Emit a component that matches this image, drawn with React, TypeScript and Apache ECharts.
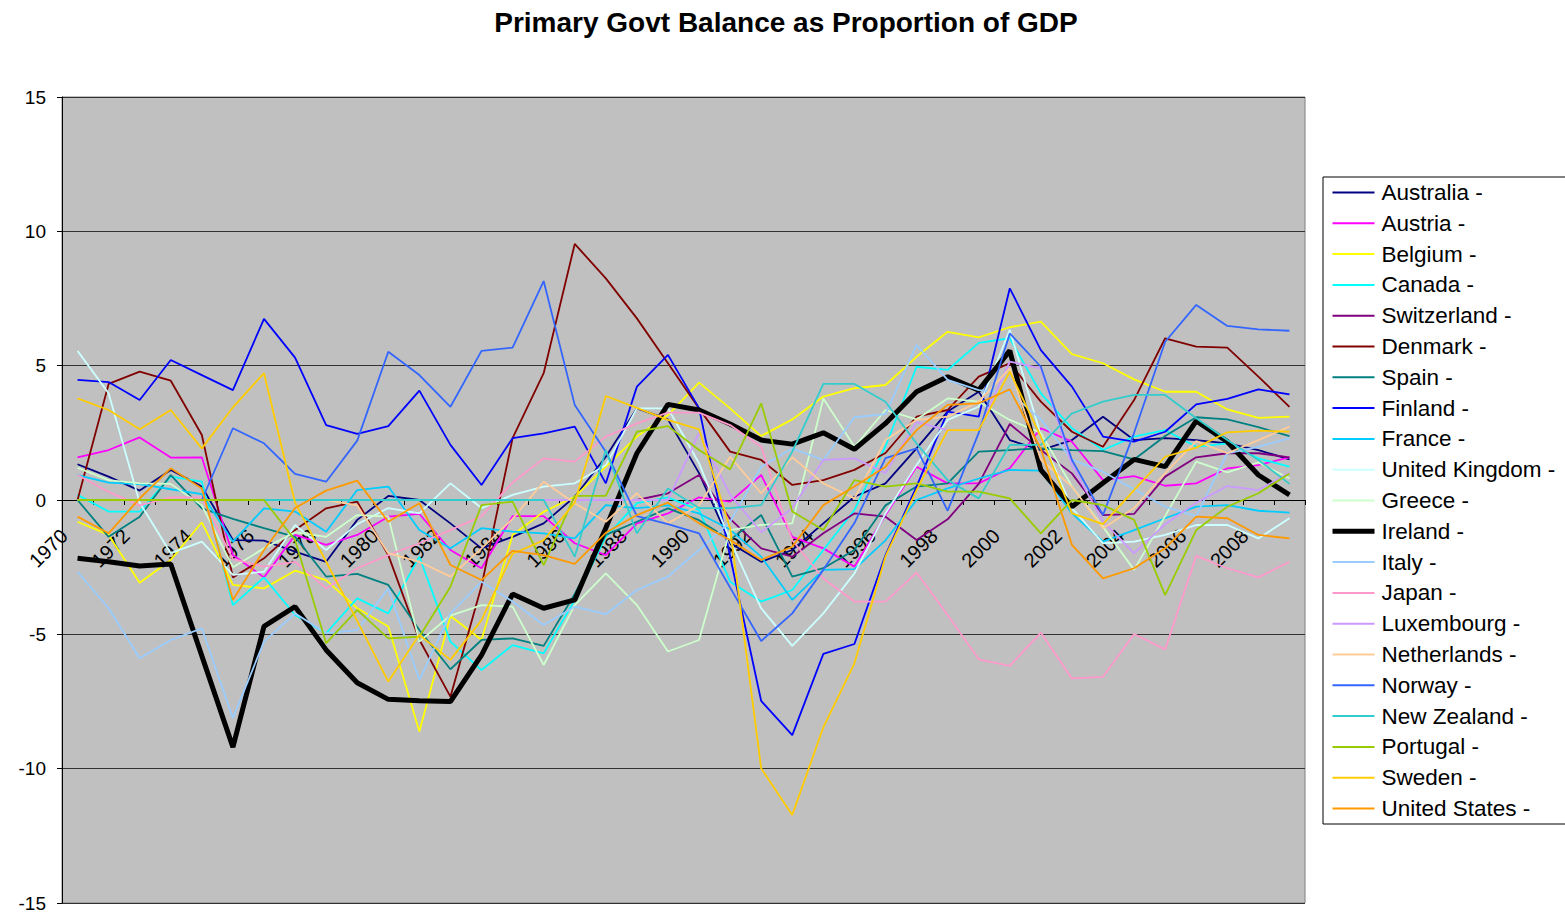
import React, { useEffect, useRef } from "react";
import * as echarts from "echarts";

const years: string[] = [];
for (let y = 1970; y <= 2009; y++) years.push(String(y));

const yTicks = [-15, -10, -5, 0, 5, 10, 15];

const australia = [1.33,0.87,0.35,1.12,0.5,-1.49,-1.51,-1.92,-2.3,-0.74,0.15,0,-0.87,-1.8,-1.37,-0.87,0.12,1.61,3.41,3.0,1.0,-1.6,-2.3,-1.86,-0.87,0.12,0.62,1.92,3.29,4.03,2.23,1.86,2.23,3.1,2.23,2.3,2.23,2.11,1.86,1.51];
const austria = [1.59,1.86,2.33,1.58,1.59,-2.05,-2.88,-1.3,-1.67,-1.3,-0.62,-0.52,-1.86,-2.54,-0.6,-0.6,-1.61,-2.05,-0.87,-0.5,0.1,-0.06,0.93,-1.37,-1.8,-2.48,-0.56,1.24,0.62,0.62,1.18,2.67,2.17,0.74,0.89,0.53,0.62,1.18,1.3,1.59];
const belgium = [-0.81,-1.3,-3.08,-2.23,-0.83,-3.16,-3.29,-2.63,-2.98,-4.03,-4.71,-8.62,-4.32,-5.2,-1.3,-0.44,0.12,1.24,2.36,3.16,4.37,3.41,2.38,3.0,3.85,4.16,4.28,5.33,6.26,6.05,6.43,6.64,5.43,5.09,4.49,4.03,4.03,3.37,3.06,3.1];
const canada = [0.19,-0.43,-0.43,0.87,0.68,-3.91,-2.88,-4.28,-4.96,-3.66,-4.22,-2.11,-5.27,-6.33,-5.4,-5.71,-3.72,-1.37,-0.12,0.1,-0.37,-3.04,-3.78,-3.35,-1.86,-0.37,2.0,4.96,4.84,5.85,6.02,3.97,2.67,1.86,2.36,2.6,1.98,2.11,1.55,1.24];
const switzerland = [0,0,0,0,0,0,0,0,0,0,0,0,0,0,0,0,0,0,0,0.25,0.93,-0.7,-1.8,-2.11,-1.24,-0.5,-0.62,-1.49,-0.72,0.6,2.83,1.86,0.99,-0.56,-0.52,0.87,1.59,1.74,1.74,1.59];
const denmark = [0,4.32,4.78,4.44,2.42,-2.88,-2.17,-1.12,-0.31,-0.06,-2.05,-5.2,-7.32,-3.2,2.3,4.72,9.53,8.25,6.76,5.09,3.41,1.8,1.49,0.56,0.74,1.12,1.75,3.1,3.35,4.59,5.09,3.66,2.54,1.98,3.72,6.02,5.71,5.67,4.59,3.47];
const spain = [0,-1.37,-0.62,0.93,-0.31,-0.7,-1.05,-1.37,-2.85,-2.75,-3.16,-4.84,-6.3,-5.21,-5.15,-5.43,-3.5,-1.3,-0.81,-0.31,-0.75,-1.49,-0.56,-2.85,-2.54,-1.86,-0.2,0.5,0.62,1.8,1.86,1.92,1.86,1.82,1.51,2.38,3.08,3.0,2.71,2.38];
const finland = [4.47,4.39,3.72,5.21,4.65,4.09,6.74,5.3,2.79,2.46,2.75,4.07,2.05,0.56,2.3,2.48,2.73,0.62,4.22,5.4,3.42,-2.1,-7.48,-8.75,-5.73,-5.36,-2.05,0.5,3.29,3.1,7.88,5.58,4.22,2.36,2.17,2.54,3.56,3.76,4.12,3.93];
const france = [0.93,0.65,0.59,0.4,0.22,-1.55,-0.31,-0.43,-1.18,0.37,0.5,-1.12,-1.8,-1.05,-1.18,-1.24,-1.43,-0.19,-0.3,-0.2,-0.5,-1.1,-2.11,-3.72,-2.6,-2.57,-1.5,0,0.43,0.8,1.12,1.09,-0.5,-1.55,-1.12,-0.68,-0.25,-0.19,-0.4,-0.47];
const unitedKingdom = [5.55,3.97,-0.1,-1.98,-1.55,-2.79,-2.67,-0.93,-1.86,-0.9,-0.3,-0.5,0.62,-0.3,0.19,0.5,0.62,1.3,3.41,3.41,1.37,-1.5,-4.03,-5.43,-4.22,-2.73,-0.5,1.3,2.98,3.47,6.33,2.4,-0.3,-1.61,-1.55,-1.3,-0.93,-0.93,-1.43,-0.68];
const greece = [1.2,0.74,0.62,0.6,-0.2,-2.5,-1.8,-1.2,-1.37,-0.56,-0.62,-5.27,-4.3,-3.91,-3.97,-6.14,-3.91,-2.73,-3.91,-5.64,-5.21,-1.12,-0.93,-0.87,3.78,1.98,3.35,3.0,3.78,3.66,2.98,2.5,0.5,-1.0,-2.6,-0.6,1.43,1.03,1.4,0.8];
const ireland = [-2.17,-2.3,-2.46,-2.38,-5.8,-9.2,-4.7,-3.97,-5.58,-6.8,-7.42,-7.47,-7.5,-5.77,-3.5,-4.03,-3.72,-1.04,1.74,3.56,3.35,2.83,2.23,2.08,2.5,1.89,2.85,4.03,4.59,4.09,5.56,1.12,-0.25,0.63,1.51,1.24,2.94,2.17,0.93,0.19];
const italy = [-2.67,-4.03,-5.89,-5.21,-4.78,-8.12,-5.27,-4.22,-4.96,-4.84,-3.29,-6.7,-4.22,-3.04,-3.78,-4.65,-3.97,-4.25,-3.35,-2.85,-1.86,-0.81,1.24,1.92,1.49,3.08,3.2,5.77,4.47,4.09,4.0,3.0,1.5,1.05,0.4,-0.25,-0.6,1.74,1.98,2.3];
const japan = [0.93,0.3,-0.2,0.1,0.1,-2.2,-2.48,-2.3,-3.29,-2.54,-2.05,-1.61,-1.12,-0.6,0.65,1.55,1.43,2.36,2.85,3.25,3.25,2.79,1.98,-1.5,-2.92,-3.78,-3.78,-2.7,-4.28,-5.93,-6.17,-4.94,-6.64,-6.58,-4.99,-5.56,-2.08,-2.54,-2.88,-2.3];
const luxembourg = [0,0,0,0,0,0,0,0,0,0,0,0,0,0,0,0,0,0,0,0,2.5,0.2,-1.2,-0.3,1.49,1.55,1.0,2.9,2.6,2.6,5.15,4.9,1.3,-0.8,-1.98,-0.9,-0.1,0.52,0.37,1.02];
const netherlands = [0,0,0,0,0,0,0,0,0,-0.2,-1.98,-2.3,-2.85,-1.8,-0.7,0.68,-0.12,-0.81,0.25,-0.87,-0.2,1.61,0.25,1.59,0.62,0.06,2.23,2.98,3.1,3.66,4.9,1.5,0.5,-1.05,-0.3,1.0,2.19,1.74,2.23,2.73];
const norway = [0,0,0,0,0,2.67,2.11,0.97,0.68,2.21,5.52,4.65,3.47,5.55,5.67,8.15,3.54,1.8,-0.6,-0.9,-1.24,-3.26,-5.25,-4.22,-2.6,-0.86,1.56,1.92,-0.4,2.5,6.2,4.96,1.49,-0.56,2.5,5.89,7.26,6.48,6.35,6.3];
const newZealand = [0,0,0,0,0,0,0,0,0,0,0,0,0,0,0,0,-2.11,1.86,-1.24,0.43,-0.3,-0.3,-0.19,1.8,4.32,4.32,3.66,2.1,0.74,0.06,2.05,2.05,3.22,3.66,3.91,3.91,3.04,2.23,1.49,0.6];
const portugal = [0,0,0,0,0,0,0,-1.5,-5.33,-4.09,-5.15,-5.09,-3.23,-0.19,-0.06,-2.42,0.15,0.15,2.54,2.75,1.86,1.14,3.6,-0.43,-1.12,0.74,0.5,0.62,0.31,0.31,0.06,-1.24,0,-0.19,-0.74,-3.54,-1.12,-0.25,0.25,0.99];
const sweden = [3.78,3.35,2.63,3.35,1.92,3.45,4.72,-0.1,-2.3,-4.5,-6.76,-5.02,-5.95,-4.47,-2.0,-1.5,-0.1,3.87,3.43,2.98,2.63,-1.05,-9.99,-11.72,-8.46,-6.08,-2.1,0.37,2.6,2.6,4.78,2.36,-0.5,-0.9,0.37,1.61,1.95,2.52,2.58,2.54];
const unitedStates = [-0.62,-1.24,0.06,1.18,0.43,-3.72,-1.86,-0.3,0.35,0.72,-0.81,-0.12,-2.42,-2.98,-1.89,-2.05,-2.38,-1.22,-0.56,-0.1,-0.87,-1.49,-2.23,-1.74,-0.19,0.5,1.24,2.6,3.54,3.6,4.12,1.9,-1.67,-2.92,-2.54,-1.8,-0.62,-0.68,-1.3,-1.43];

const seriesNames = [
  "Australia -", "Austria -", "Belgium -", "Canada -", "Switzerland -", "Denmark -", "Spain -",
  "Finland -", "France -", "United Kingdom -", "Greece -", "Ireland -", "Italy -", "Japan -",
  "Luxembourg -", "Netherlands -", "Norway -", "New Zealand -", "Portugal -", "Sweden -", "United States -",
];
const seriesData = [
  australia, austria, belgium, canada, switzerland, denmark, spain, finland, france, unitedKingdom,
  greece, ireland, italy, japan, luxembourg, netherlands, norway, newZealand, portugal, sweden, unitedStates,
];
const seriesColors = [
  "#000080", "#FF00FF", "#FFFF00", "#00FFFF", "#800080", "#800000", "#008080", "#0000FF", "#00CCFF", "#CCFFFF",
  "#CCFFCC", "#000000", "#99CCFF", "#FF99CC", "#CC99FF", "#FFCC99", "#3366FF", "#33CCCC", "#99CC00", "#FFCC00", "#FF9900",
];

export default function App() {
  const ref = useRef<HTMLDivElement>(null);
  useEffect(() => {
    if (!ref.current) return;
    const chart = echarts.init(ref.current, undefined, { renderer: "svg" });
    const font = "Liberation Sans, Arial, sans-serif";
    const gridTop = 97;
    const gridBottom = 11;
    const gridHeight = 914 - gridTop - gridBottom;
    const zeroOffset = -gridHeight * (0 - yTicks[0]) / (yTicks[yTicks.length - 1] - yTicks[0]);
    chart.setOption({
      animation: false,
      backgroundColor: "#ffffff",
      title: {
        text: "Primary Govt Balance as Proportion of GDP",
        left: 781,
        textAlign: "center",
        top: 3,
        textStyle: { fontFamily: font, fontSize: 28, fontWeight: "bold", color: "#000" },
      },
      legend: {
        orient: "vertical",
        left: 1323,
        top: 177,
        padding: [4, 40, 4, 7],
        itemGap: 7.8,
        itemWidth: 42,
        itemHeight: 14,
        backgroundColor: "#ffffff",
        borderColor: "#000000",
        borderWidth: 1,
        borderRadius: 0,
        itemStyle: { opacity: 0 },
        lineStyle: { width: 2 },
        data: seriesNames.map((name) =>
          name === "Ireland -" ? { name, lineStyle: { width: 5 } } : { name }
        ),
        textStyle: { fontFamily: font, fontSize: 22.5, lineHeight: 21, color: "#000", padding: [0, 0, 0, 2] },
      },
      grid: {
        left: 62,
        right: 260,
        top: gridTop,
        bottom: gridBottom,
        show: true,
        backgroundColor: "#C0C0C0",
        borderColor: "#808080",
        borderWidth: 1,
        containLabel: false,
      },
      xAxis: {
        type: "category",
        data: years,
        boundaryGap: true,
        offset: zeroOffset,
        axisLine: { onZero: false, lineStyle: { color: "#000", width: 1 } },
        axisTick: { show: true, interval: 0, length: 5, lineStyle: { color: "#000" } },
        axisLabel: {
          interval: 1,
          rotate: 45,
          margin: 19,
          padding: [0, 19, 0, 0],
          fontFamily: font,
          fontSize: 20,
          color: "#000",
        },
        splitLine: { show: false },
      },
      yAxis: {
        type: "value",
        min: yTicks[0],
        max: yTicks[yTicks.length - 1],
        interval: 5,
        axisLine: { show: true, lineStyle: { color: "#000" } },
        axisTick: { show: true, length: 5, lineStyle: { color: "#000" } },
        axisLabel: { margin: 16, fontFamily: font, fontSize: 19, color: "#000" },
        splitLine: { show: true, lineStyle: { color: "#333333", width: 1 } },
      },
      series: seriesNames.map((name, i) => ({
        name,
        type: "line",
        data: seriesData[i],
        symbol: "none",
        showSymbol: false,
        color: seriesColors[i],
        lineStyle: { color: seriesColors[i], width: name === "Ireland -" ? 5 : 1.8 },
        emphasis: { disabled: true },
      })),
    });
    return () => chart.dispose();
  }, []);
  return (
    <div
      ref={ref}
      style={{ position: "absolute", left: 0, top: 0, width: 1565, height: 914 }}
    />
  );
}
